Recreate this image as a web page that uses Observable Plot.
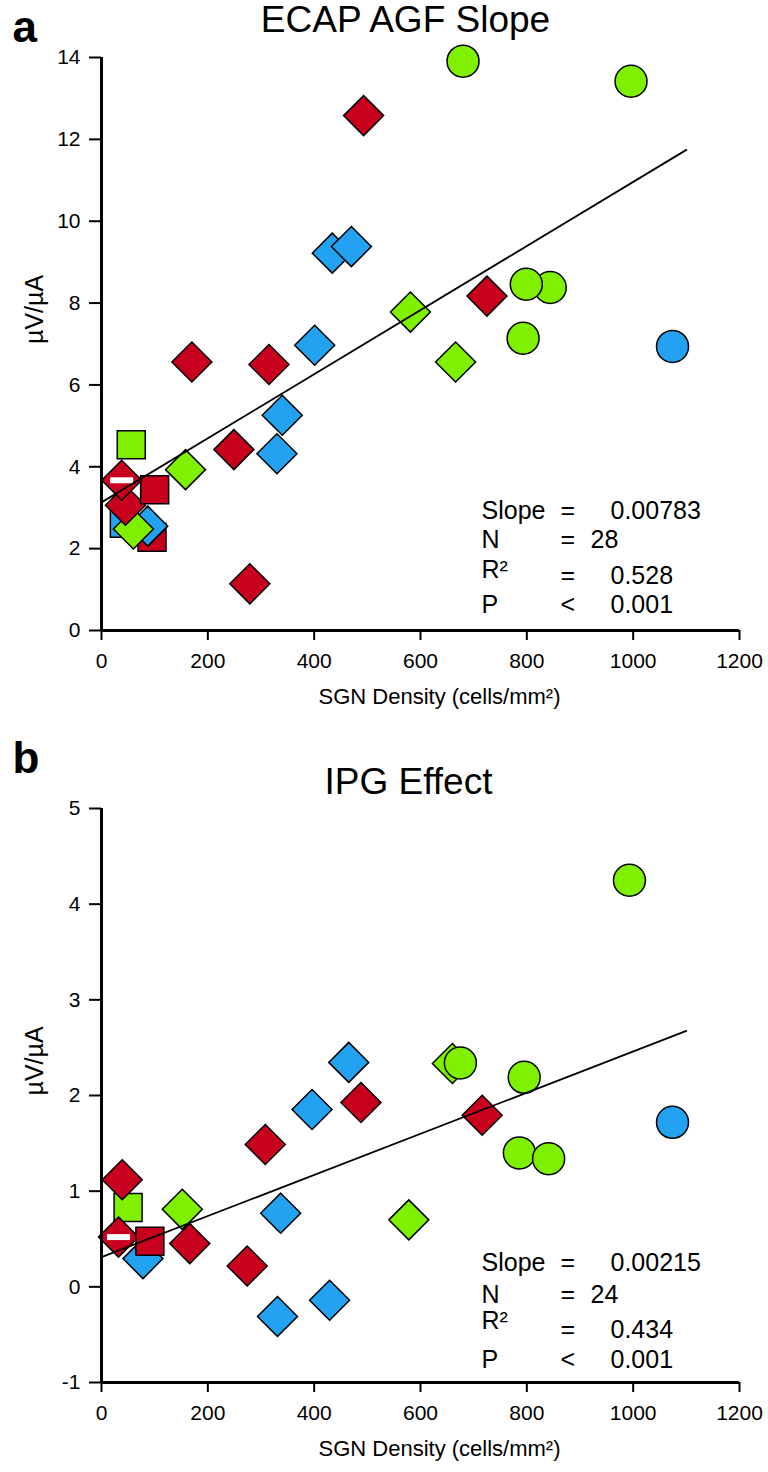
<!DOCTYPE html>
<html><head><meta charset="utf-8">
<script src="https://cdn.jsdelivr.net/npm/d3@7"></script>
<script src="https://cdn.jsdelivr.net/npm/@observablehq/plot@0.6"></script>
<style>
body{margin:0;background:#fff;}
#chart svg{display:block;}
</style>
</head><body><div id="chart"></div>
<script>
// ---------- shared ----------
const xTicks = [0, 200, 400, 600, 800, 1000, 1200];
const xLabel = "SGN Density (cells/mm²)";
const yLabel = "µV/µA";
const statLabels = ["Slope", "N", "R²", "P"];
const statOps = ["=", "=", "=", "<"];

// ---------- panel a: ECAP AGF Slope ----------
const aTitle = "ECAP AGF Slope";
const aYTicks = [0, 2, 4, 6, 8, 10, 12, 14];
const aDensity = [43, 95, 87, 60, 45, 100, 38, 56, 158, 249, 330, 340, 279, 170, 315, 401, 434, 470, 493, 581, 666, 725, 793, 844, 799, 680, 996, 1074];
const aValue   = [2.62, 2.28, 2.55, 2.48, 3.06, 3.44, 3.67, 4.54, 3.93, 4.42, 4.32, 5.26, 1.14, 6.56, 6.50, 6.97, 9.22, 9.38, 12.58, 7.78, 6.56, 8.17, 7.14, 8.38, 8.46, 13.91, 13.42, 6.94];
const aGroup   = ["blue","red","blue","green","red","red","red","green","green","red","blue","blue","red","red","red","blue","blue","blue","red","green","green","red","green","green","green","green","green","blue"];
const aShape   = ["square","square","diamond","diamond","diamond","square","diamond","square","diamond","diamond","diamond","diamond","diamond","diamond","diamond","diamond","diamond","diamond","diamond","diamond","diamond","diamond","circle","circle","circle","circle","circle","circle"];
const aMarked  = [0,0,0,0,0,0,1,0,0,0,0,0,0,0,0,0,0,0,0,0,0,0,0,0,0,0,0,0];
const aFitSlope = 0.00783, aFitIntercept = 3.13, aFitRange = [0, 1100];
const aStatValues = ["0.00783", "28", "0.528", "0.001"];

// ---------- panel b: IPG Effect ----------
const bTitle = "IPG Effect";
const bYTicks = [-1, 0, 1, 2, 3, 4, 5];
const bDensity = [78, 50, 39, 32, 91, 152, 166, 274, 331, 429, 337, 308, 396, 465, 488, 578, 660, 675, 716, 786, 841, 795, 993, 1074];
const bValue   = [0.295, 0.83, 1.12, 0.52, 0.476, 0.81, 0.452, 0.218, -0.31, -0.14, 0.77, 1.488, 1.854, 2.346, 1.927, 0.70, 2.335, 2.34, 1.794, 1.40, 1.34, 2.19, 4.25, 1.72];
const bGroup   = ["blue","green","red","red","red","green","red","red","blue","blue","blue","red","blue","blue","red","green","green","green","red","green","green","green","green","blue"];
const bShape   = ["diamond","square","diamond","diamond","square","diamond","diamond","diamond","diamond","diamond","diamond","diamond","diamond","diamond","diamond","diamond","diamond","circle","diamond","circle","circle","circle","circle","circle"];
const bMarked  = [0,0,0,1,0,0,0,0,0,0,0,0,0,0,0,0,0,0,0,0,0,0,0,0];
const bFitSlope = 0.00215, bFitIntercept = 0.31, bFitRange = [0, 1100];
const bStatValues = ["0.00215", "24", "0.434", "0.001"];

// ---------- styling ----------
const FONT = "'Liberation Sans', Arial, Helvetica, sans-serif";
const COLORS = {red: "#C8001E", blue: "#22A2F0", green: "#7EF000"};
const diamond = {draw(ctx, size) { const r = Math.sqrt(size / Math.PI); ctx.moveTo(0, -r); ctx.lineTo(r, 0); ctx.lineTo(0, r); ctx.lineTo(-r, 0); ctx.closePath(); }};
const square = {draw(ctx, size) { const r = Math.sqrt(size / Math.PI); ctx.rect(-r, -r, 2 * r, 2 * r); }};
const whiteBar = {draw(ctx, size) { const r = Math.sqrt(size / Math.PI); ctx.rect(-r, -0.26 * r, 2 * r, 0.52 * r); }};
const SYM = {diamond: diamond, square: square, circle: "circle"};
const RAD = {diamond: 20, square: 14, circle: 16};

function panel(cfg) {
  const rows = cfg.density.map((x, i) => ({x, y: cfg.value[i], group: cfg.group[i], shape: cfg.shape[i], marked: !!cfg.marked[i]}));
  const fit = cfg.fitRange.map(x => ({x, y: cfg.fitIntercept + cfg.fitSlope * x}));
  const W = 768, H = 736;
  const ml = 101, mr = 29;
  const marks = [];
  // points, drawn one by one to keep overlap order
  rows.forEach(d => {
    marks.push(Plot.dot([d], {x: "x", y: "y", symbol: SYM[d.shape], r: RAD[d.shape], fill: COLORS[d.group], stroke: "black", strokeWidth: 1.5}));
    if (d.marked) marks.push(Plot.dot([d], {x: "x", y: "y", symbol: whiteBar, r: 11.5, fill: "white", stroke: "none"}));
  });
  marks.push(Plot.line(fit, {x: "x", y: "y", stroke: "black", strokeWidth: 1.8}));
  // axes
  marks.push(Plot.axisX({ticks: xTicks, tickSize: 10, tickPadding: 13, fontSize: 21, strokeWidth: 2, label: null, tickFormat: d => String(d)}));
  marks.push(Plot.axisY({ticks: cfg.yTicks, tickSize: 12, tickPadding: 9, fontSize: 21, strokeWidth: 2, label: null, tickFormat: d => String(d)}));
  marks.push(Plot.ruleX([0], {stroke: "black", strokeWidth: 3}));
  marks.push(Plot.ruleY([cfg.yDomain[0]], {stroke: "black", strokeWidth: 3}));
  // titles and labels
  marks.push(Plot.text([cfg.title], {text: d => d, frameAnchor: "top", dx: cfg.titleDx, dy: cfg.titleDy, lineAnchor: "bottom", fontSize: 37, fill: "black"}));
  marks.push(Plot.text([cfg.letter], {text: d => d, frameAnchor: "top-left", dx: -89, dy: cfg.letterDy, lineAnchor: "bottom", textAnchor: "start", fontSize: 44, fontWeight: "bold", fill: "black"}));
  marks.push(Plot.text([xLabel], {text: d => d, frameAnchor: "bottom", dx: 19, dy: 73, lineAnchor: "bottom", fontSize: 22, fill: "black"}));
  marks.push(Plot.text([yLabel], {text: d => d, frameAnchor: "left", dx: -67, rotate: -90, lineAnchor: "middle", fontSize: 25, fill: "black"}));
  // statistics box
  const labDy = cfg.statDy, valDy = cfg.statValDy;
  statLabels.forEach((s, i) => {
    marks.push(Plot.text([s], {text: d => d, frameAnchor: "bottom-left", dx: 380, dy: labDy[i], textAnchor: "start", lineAnchor: "bottom", fontSize: 25, fill: "black"}));
    marks.push(Plot.text([statOps[i]], {text: d => d, frameAnchor: "bottom-left", dx: 459, dy: valDy[i], textAnchor: "start", lineAnchor: "bottom", fontSize: 25, fill: "black"}));
    marks.push(Plot.text([cfg.statValues[i]], {text: d => d, frameAnchor: "bottom-left", dx: i === 1 ? 489 : 509, dy: valDy[i], textAnchor: "start", lineAnchor: "bottom", fontSize: 25, fill: "black"}));
  });
  return Plot.plot({
    width: W, height: H,
    marginLeft: ml, marginRight: mr, marginTop: cfg.mt, marginBottom: cfg.mb,
    style: {fontFamily: FONT, background: "white", color: "black", overflow: "visible"},
    x: {domain: [0, 1200], axis: null},
    y: {domain: cfg.yDomain, axis: null},
    marks
  });
}

const chart = document.getElementById("chart");
chart.append(panel({
  title: aTitle, letter: "a", density: aDensity, value: aValue, group: aGroup, shape: aShape, marked: aMarked,
  fitSlope: aFitSlope, fitIntercept: aFitIntercept, fitRange: aFitRange, statValues: aStatValues,
  yTicks: aYTicks, yDomain: [0, 14], mt: 57, mb: 106,
  titleDx: -15, titleDy: -26, letterDy: -16,
  statDy: [-112, -83, -53, -18], statValDy: [-112, -83, -47, -18]
}));
chart.append(panel({
  title: bTitle, letter: "b", density: bDensity, value: bValue, group: bGroup, shape: bShape, marked: bMarked,
  fitSlope: bFitSlope, fitIntercept: bFitIntercept, fitRange: bFitRange, statValues: bStatValues,
  yTicks: bYTicks, yDomain: [-1, 5], mt: 72, mb: 90,
  titleDx: -12, titleDy: -15, letterDy: -36,
  statDy: [-112, -80, -54, -15], statValDy: [-112, -80, -45, -15]
}));
</script>
</body></html>
